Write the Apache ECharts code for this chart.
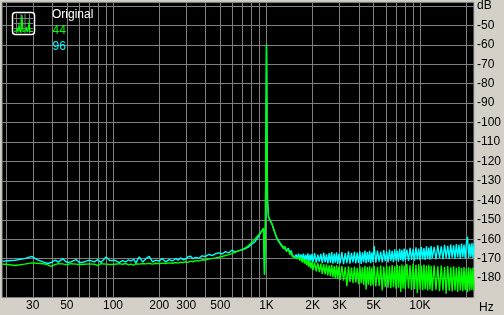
<!DOCTYPE html>
<html><head><meta charset="utf-8">
<script src="https://cdn.jsdelivr.net/npm/echarts@6/dist/echarts.min.js"></script>
<style>html,body{margin:0;padding:0;background:#d4d0c8}#c{width:504px;height:315px}</style>
</head><body><div id="c"></div>
<script>
// ---- data (frequency in Hz, level in dB) ----
const freqHz = [
  19,20,23,26.5,29.5,32,35,37.5,39.5,42,
  44,47,50,53,57.5,60.5,65,70,75.5,79.5,
  83.5,90,95,102,110,115,121,126,131,136,
  141,148,156,164,172,181,190,200,210,220,
  232,244,256,266,276,286,297,308,320,332,
  345,363,380,400,420,442,465,489,514,540,
  568,596,627,659,692,728,765,804,842,888,
  920,957,971,985,1000,1015,1030,1056,1082,1110,
  1139,1170,1200,1230,1257,1290,1320,1350,1389,1420,1450,1475,
  1500,1530,1560,1590,1620,1650,1680,1710,1740,1770,
  1800,1830,1860,1890,1920,1950,1980,2010,2060,2110,
  2160,2210,2260,2310,2360,2410,2460,2510,2560,2610,
  2660,2710,2760,2810,2860,2910,2960,3020,3100,3180,
  3260,3340,3420,3500,3580,3660,3740,3820,3900,3980,
  4060,4140,4220,4300,4380,4460,4540,4620,4700,4780,
  4860,4940,5030,5160,5290,5420,5550,5680,5810,5940,
  6070,6200,6330,6460,6590,6720,6850,6980,7110,7240,
  7370,7500,7630,7760,7890,8020,8220,8420,8620,8820,
  9020,9220,9420,9620,9820,10020,10220,10420,10620,10820,
  11020,11220,11420,11620,11820,12020,12370,12720,13070,13420,
  13770,14120,14470,14820,15170,15520,15870,16220,16570,16920,
  17270,17620,17970,18320,18670,19020,19370,19720,20070,20420,
  20770,21120,21470,21820,22170,22520
];
const db96 = [
  -171.3,-171.2,-170.8,-170.0,-168.8,-170.5,-171.7,-172.5,-172.0,-170.8,
  -171.8,-170.0,-172.0,-171.7,-170.5,-172.1,-171.7,-170.8,-171.7,-170.5,
  -172.0,-169.1,-171.0,-170.8,-172.0,-171.0,-171.7,-170.6,-171.2,-170.3,
  -172.2,-169.1,-171.7,-170.0,-168.8,-171.7,-170.8,-171.2,-170.0,-171.7,
  -170.5,-171.2,-170.0,-170.8,-169.5,-170.6,-170.2,-169.0,-168.8,-170.0,
  -169.4,-169.8,-168.6,-168.9,-167.8,-168.4,-167.5,-167.0,-167.6,-166.4,
  -167.0,-165.7,-166.5,-165.9,-165.5,-164.8,-164.0,-162.5,-161.3,-158.5,
  -156.5,-154.5,-178.0,-150.0,-60.0,-140.0,-148.4,-150.5,-151.8,-154.5,
  -157.0,-159.5,-158.9,-162.0,-161.3,-164.2,-163.2,-165.8,-164.6,-167.2,-165.9,-168.3,
  -167.6,-169.2,-167.9,-169.8,-167.5,-170.3,-167.8,-170.6,-167.4,-171.0,
  -168.1,-170.9,-167.3,-171.4,-167.9,-171.2,-167.6,-171.8,-167.2,-172.0,
  -168.0,-171.6,-167.5,-172.3,-166.9,-171.9,-167.8,-172.5,-167.1,-172.2,
  -166.6,-172.6,-167.4,-172.1,-166.8,-172.7,-167.5,-172.4,-166.7,-172.8,
  -167.2,-172.3,-166.3,-172.6,-167.0,-171.9,-166.5,-172.5,-166.9,-172.2,
  -166.2,-172.7,-166.8,-172.0,-165.8,-172.4,-166.6,-171.8,-166.0,-172.3,
  -166.7,-171.7,-163.6,-172.1,-165.9,-171.5,-166.4,-172.0,-165.6,-171.3,
  -166.2,-171.9,-165.4,-171.2,-166.0,-171.8,-165.2,-171.0,-165.8,-171.6,
  -164.9,-170.8,-165.5,-171.4,-164.8,-170.9,-165.3,-171.2,-164.5,-170.6,
  -165.0,-171.0,-164.2,-170.4,-164.8,-170.9,-164.0,-170.3,-164.6,-170.7,
  -163.7,-170.1,-164.3,-170.6,-163.5,-169.9,-163.9,-170.4,-163.2,-169.8,
  -163.7,-170.3,-162.9,-169.6,-163.4,-170.2,-162.7,-169.5,-163.1,-170.0,
  -162.5,-169.4,-162.9,-170.1,-162.3,-169.3,-162.7,-169.9,-162.0,-158.8,
  -169.6,-162.4,-169.2,-162.0,-169.8,-162.3
];
const db44 = [
  -172.9,-172.9,-173.5,-172.8,-172.2,-172.4,-172.6,-173.2,-174.0,-173.0,
  -172.6,-172.7,-173.2,-172.6,-172.8,-173.1,-172.9,-172.7,-172.9,-173.5,
  -172.6,-172.8,-173.0,-172.9,-172.6,-172.9,-172.5,-173.2,-172.8,-173.4,
  -172.6,-172.8,-172.5,-172.7,-172.4,-172.8,-172.4,-172.6,-172.3,-172.5,
  -172.2,-172.4,-172.0,-172.3,-171.8,-172.1,-171.6,-171.9,-171.3,-171.6,
  -171.0,-171.2,-170.6,-170.7,-170.2,-170.0,-169.6,-169.3,-168.9,-168.4,
  -167.9,-167.4,-166.6,-166.0,-165.4,-164.4,-163.3,-161.6,-159.9,-157.8,
  -156.2,-154.4,-178.4,-150.0,-60.0,-140.0,-148.4,-150.3,-151.8,-154.5,
  -157.0,-159.8,-159.4,-162.6,-161.8,-164.8,-163.6,-166.4,-165.2,-167.9,-166.6,-168.9,
  -168.2,-169.3,-168.6,-170.2,-169.0,-171.0,-169.4,-171.9,-169.9,-172.6,
  -170.5,-173.4,-170.8,-174.2,-171.2,-175.0,-171.6,-175.9,-172.0,-176.6,
  -172.3,-177.0,-172.6,-177.8,-172.9,-178.1,-173.0,-178.6,-173.4,-179.0,
  -173.2,-179.6,-173.8,-180.1,-173.5,-180.4,-174.1,-181.0,-173.8,-181.4,
  -174.4,-184.2,-174.0,-182.0,-174.6,-182.5,-174.2,-182.3,-174.8,-183.1,
  -174.0,-182.7,-174.5,-183.6,-173.8,-185.9,-174.3,-183.4,-173.9,-184.0,
  -174.6,-183.7,-173.7,-184.3,-174.2,-184.0,-173.6,-186.4,-174.1,-184.6,
  -173.5,-184.9,-174.0,-185.2,-173.3,-184.7,-173.9,-185.5,-173.2,-185.0,
  -173.7,-187.2,-173.0,-185.4,-173.6,-185.8,-172.8,-185.3,-173.4,-186.1,
  -172.7,-185.6,-173.2,-187.8,-172.9,-185.9,-173.5,-186.3,-173.0,-185.7,
  -173.6,-186.4,-173.1,-185.9,-173.8,-186.6,-173.4,-186.0,-174.0,-186.8,
  -173.6,-186.2,-174.2,-188.0,-173.8,-186.5,-174.4,-186.9,-174.0,-186.3,
  -174.6,-187.1,-174.1,-186.4,-174.7,-186.8,-174.3,-186.2,-174.8,-187.3,
  -174.4,-186.5,-175.0,-186.1,-174.6,-186.4
];
const gridFreqs = [20,30,40,50,60,70,80,90,100,200,300,400,500,600,700,800,900,
  1000,2000,3000,4000,5000,6000,7000,8000,9000,10000,20000];
const xTickValues = [30,50,100,200,300,500,1000,2000,3000,5000,10000];
const xTickLabels = ['30','50','100','200','300','500','1K','2K','3K','5K','10K'];
const yLabelMin = -180, yLabelMax = -50, yUnitValue = -40;
const legendTitle = 'Original';
const seriesNames = ['44','96'];
const seriesColors = ['#00ff00','#00ffff'];

// ---- chart ----
const FONT = '"Liberation Sans Narrow","Arial Narrow","Liberation Sans",Arial,sans-serif';
const chart = echarts.init(document.getElementById('c'), null, {renderer:'canvas'});
const toPairs = arr => freqHz.map((f,i)=>[f, arr[i]]);
const markData = gridFreqs.map(f => {
  const i = xTickValues.indexOf(f);
  return {xAxis: f, label: i >= 0 ? {show:true, formatter: xTickLabels[i]} : {show:false}};
});
const iconGray = {stroke:'#808080', lineWidth:1};
chart.setOption({
  animation: false,
  backgroundColor: '#d4d0c8',
  grid: {left: 2, right: 27.5, top: 2, bottom: 17.5, show: true, backgroundColor: '#000', borderColor: '#a8a8a8', borderWidth: 1},
  xAxis: {
    type: 'log', logBase: 10, min: 18.9, max: 22500,
    axisLine: {show:false}, axisTick: {show:false}, axisLabel: {show:false}, splitLine: {show:false},
    name: 'Hz', nameLocation: 'end', nameGap: 5,
    nameTextStyle: {color:'#000', fontSize: 12, fontFamily: FONT, verticalAlign: 'top', padding: [4,0,0,0]}
  },
  yAxis: {
    type: 'value', position: 'right', min: -190, max: -38, interval: 10,
    axisLine: {show:false}, axisTick: {show:false},
    splitLine: {show:true, lineStyle: {color:'#808080', width:1}},
    axisLabel: {
      color: '#000', fontSize: 12, fontFamily: FONT, margin: 3,
      formatter: v => v === yUnitValue ? 'dB' : ((v >= yLabelMin && v <= yLabelMax && v % 10 === 0) ? String(v) : '')
    }
  },
  legend: {
    data: seriesNames.map((n,i)=>({name:n, textStyle:{color: seriesColors[i]}})),
    orient: 'vertical', left: 47.5, top: 24.5, padding: 0, icon: 'none', itemWidth: 0, itemHeight: 12, itemGap: 3.7,
    textStyle: {fontSize: 12, fontFamily: FONT, lineHeight: 12, padding: 0}, selectedMode: false
  },
  graphic: [
    {type:'rect', z: 100, shape:{x:12.5, y:12.5, width:22, height:22, r:3}, style:{fill:'#000', stroke:'#fff', lineWidth:1.5}},
    {type:'line', z: 101, shape:{x1:16.5,y1:14,x2:16.5,y2:33}, style:iconGray},
    {type:'line', z: 101, shape:{x1:21,y1:14,x2:21,y2:33}, style:iconGray},
    {type:'line', z: 101, shape:{x1:25,y1:14,x2:25,y2:33}, style:iconGray},
    {type:'line', z: 101, shape:{x1:29.5,y1:14,x2:29.5,y2:33}, style:iconGray},
    {type:'line', z: 101, shape:{x1:14,y1:18.5,x2:33,y2:18.5}, style:iconGray},
    {type:'line', z: 101, shape:{x1:14,y1:23.5,x2:33,y2:23.5}, style:iconGray},
    {type:'line', z: 101, shape:{x1:14,y1:28.5,x2:33,y2:28.5}, style:iconGray},
    {type:'polyline', z: 102, shape:{points:[[14,31.5],[16,31],[17,29],[18,31.5],[19,25],[20,31.5],[21,31],[22,15],[23,31.5],[25,31],[26.5,28],[27,31.5],[28,31],[29,23],[30,31.5],[33,31.5]]}, style:{stroke:'#00ff00', fill:null, lineWidth:1.2}},
    {type:'text', z: 100, left: 52, top: 8.5, style:{text: legendTitle, fill:'#fff', font: '12px ' + FONT}}
  ],
  series: [
    {
      name: seriesNames[1], type: 'line', data: toPairs(db96), showSymbol: false, symbol: 'none',
      lineStyle: {color: seriesColors[1], width: 1.4}, itemStyle: {color: seriesColors[1]}, z: 2,
      markLine: {
        silent: true, symbol: 'none', z: 1, animation: false,
        lineStyle: {color: '#808080', width: 1, type: 'solid'},
        emphasis: {disabled: true},
        label: {position: 'start', distance: 2, color: '#000', fontSize: 12, fontFamily: FONT},
        data: markData
      }
    },
    {
      name: seriesNames[0], type: 'line', data: toPairs(db44), showSymbol: false, symbol: 'none',
      lineStyle: {color: seriesColors[0], width: 1.4}, itemStyle: {color: seriesColors[0]}, z: 3
    }
  ]
});
</script></body></html>
